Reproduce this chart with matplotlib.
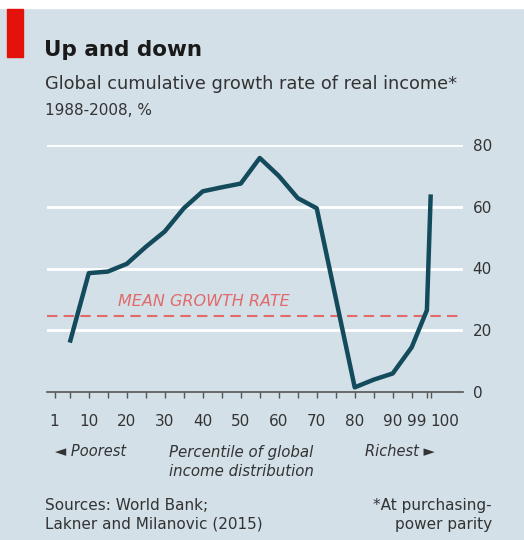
import matplotlib.pyplot as plt
from matplotlib.patches import Rectangle

# percentile of global income distribution vs cumulative growth, %
percentile = [5, 10, 15, 20, 25, 30, 35, 40, 45, 50, 55, 60, 65, 70, 80, 85, 90, 95, 99, 100]
growth = [16, 38.5, 39, 41.5, 47, 52, 59.5, 65, 66.3, 67.5, 75.8, 70, 62.8, 59.5, 1.5, 4, 6, 14.5, 26.5, 64]
mean_growth = 24.5

tick_pos = [1] + list(range(5, 100, 5)) + [99, 100]
label_pos = [1, 10, 20, 30, 40, 50, 60, 70, 80, 90, 99, 100]
y_ticks = [0, 20, 40, 60, 80]

W, H = 524, 540
bg = '#d3e0e8'
line_col = '#134a5c'
red = '#e3120b'
txt = '#333333'
plt.rcParams['font.family'] = ['DejaVu Sans']

fig = plt.figure(figsize=(W / 100, H / 100), dpi=100)
fig.patch.set_facecolor(bg)

def px(x, y):
    return x / W, 1 - y / H

# white strip on top and red tag
fig.patches.append(Rectangle((0, 1 - 8 / H), 1, 8 / H, transform=fig.transFigure,
                             color='white', zorder=0))
fig.patches.append(Rectangle(px(7, 57), 16 / W, 48 / H, transform=fig.transFigure,
                             color=red, zorder=1))

ax = fig.add_axes([47 / W, 1 - 392 / H, 416 / W, 247 / H])
ax.set_facecolor(bg)
ax.set_xlim(-1, 108.5)
ax.set_ylim(0, 80)

for v in y_ticks[1:]:
    ax.axhline(v, color='white', lw=2, zorder=1)
ax.axhline(mean_growth, color='#e26a6a', lw=1.5, ls=(0, (5, 3)), zorder=2)
ax.text(17.8, mean_growth + 2.3, 'MEAN GROWTH RATE', color='#e26a6a', fontsize=11.5,
        style='italic', va='bottom', ha='left')

ax.plot(percentile, growth, color=line_col, lw=3.2, solid_joinstyle='round',
        solid_capstyle='butt', zorder=3, clip_on=False)

for s in ['top', 'right', 'left']:
    ax.spines[s].set_visible(False)
ax.spines['bottom'].set_color('#555555')
ax.spines['bottom'].set_linewidth(1.2)

ax.set_xticks(tick_pos, minor=True)
ax.set_xticks(label_pos)
labels = ax.set_xticklabels([str(v) for v in label_pos])
labels[-2].set_ha('right')
labels[-1].set_ha('left')
ax.tick_params(axis='x', which='both', length=4, width=1, color='#555555',
               labelsize=11, labelcolor=txt, pad=12)

ax.set_yticks(y_ticks)
ax.yaxis.tick_right()
ax.tick_params(axis='y', length=0, labelsize=11, labelcolor=txt, pad=7)

# titles
fig.text(*px(44, 56), 'Up and down', fontsize=15.5, fontweight='bold', color='#1a1a1a',
         va='baseline')
fig.text(*px(45, 89), 'Global cumulative growth rate of real income*', fontsize=12.8,
         color=txt, va='baseline')
fig.text(*px(45, 115), '1988-2008, %', fontsize=11, color=txt, va='baseline')

# x-axis descriptors
fig.text(*px(55, 451), '\u25c4 Poorest', fontsize=10.5, style='italic', color=txt,
         va='center')
fig.text(*px(241, 462), 'Percentile of global\nincome distribution', fontsize=10.8,
         style='italic', color=txt, va='center', ha='center', linespacing=1.35)
fig.text(*px(435, 451), 'Richest \u25ba', fontsize=10.5, style='italic', color=txt,
         va='center', ha='right')

# footer
fig.text(*px(45, 515), 'Sources: World Bank;\nLakner and Milanovic (2015)', fontsize=11,
         color=txt, va='center', linespacing=1.3)
fig.text(*px(492, 515), '*At purchasing-\npower parity', fontsize=11,
         color=txt, va='center', ha='right', multialignment='right', linespacing=1.3)

fig.savefig('out.png', dpi=100, facecolor=bg)
